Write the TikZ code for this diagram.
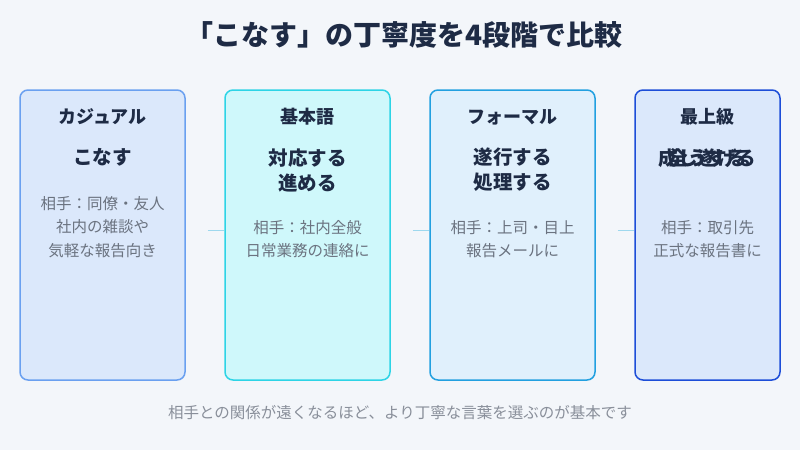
\documentclass[tikz,border=0pt]{standalone}
\usepackage{fontspec}
\setmainfont{Noto Sans CJK JP}
\definecolor{bgc}{HTML}{F3F6FA}
\definecolor{ink}{HTML}{1E2B45}
\definecolor{greyt}{HTML}{6B7380}
\definecolor{linkc}{HTML}{9ED8EE}
\definecolor{fillA}{HTML}{DBE8FB}
\definecolor{lineA}{HTML}{6AA0F0}
\definecolor{fillB}{HTML}{CFF8FB}
\definecolor{lineB}{HTML}{2DD4E6}
\definecolor{fillC}{HTML}{E0F0FC}
\definecolor{lineC}{HTML}{22A0E0}
\definecolor{lineD}{HTML}{1D4ED8}
\tikzset{
  card/.style={draw, line width=1.5pt, rounded corners=8pt, minimum width=165pt, minimum height=290pt, inner sep=0},
  level/.style={font=\fontsize{18}{20}\selectfont\bfseries, text=ink},
  word/.style={font=\fontsize{19.5}{25}\selectfont\bfseries, text=ink, align=center},
  usage/.style={font=\fontsize{15.5}{23.5}\selectfont, text=greyt, align=center},
  link/.style={draw=linkc, line width=1pt}
}
\begin{document}
\begin{tikzpicture}[x=1pt, y=-1pt]
  \fill[bgc] (0,0) rectangle (800,450);
  \useasboundingbox (0,0) rectangle (800,450);
  \node[font=\fontsize{28}{32}\selectfont\bfseries, text=ink] (title) at (404,35) {「こなす」の丁寧度を4段階で比較};
  % cards
  \node[card, fill=fillA, draw=lineA] (c1) at (102.5,235) {};
  \node[card, fill=fillB, draw=lineB] (c2) at (307.5,235) {};
  \node[card, fill=fillC, draw=lineC] (c3) at (512.5,235) {};
  \node[card, fill=fillA, draw=lineD, minimum width=145pt] (c4) at (707.5,235) {};
  % connectors
  \path (c1.east) ++(22,-5) coordinate (l1a) (c2.west) ++(-0.75,-5) coordinate (l1b);
  \draw[link] (l1a) -- (l1b);
  \path (c2.east) ++(22,-5) coordinate (l2a) (c3.west) ++(-0.75,-5) coordinate (l2b);
  \draw[link] (l2a) -- (l2b);
  \path (c3.east) ++(22,-5) coordinate (l3a) (c4.west) ++(-0.75,-5) coordinate (l3b);
  \draw[link] (l3a) -- (l3b);
  % levels
  \node[level] (h1) at (102.5,117) {カジュアル};
  \node[level] (h2) at (307.5,117) {基本語};
  \node[level] (h3) at (512.5,117) {フォーマル};
  \node[level] (h4) at (707.5,117) {最上級};
  % words
  \node[word] (w1) at (102.5,157) {こなす};
  \node[word] (w2) at (307.5,170) {対応する\\進める};
  \node[word] (w3) at (512.5,170) {遂行する\\処理する};
  \node[word] (w4a) at (707.5,158) {成し遂げる};
  \node[word] (w4b) at (707.5,158) {全うする};
  % usage
  \node[usage] (u1) at (102.5,227) {相手：同僚・友人\\社内の雑談や\\気軽な報告向き};
  \node[usage] (u2) at (307.5,239) {相手：社内全般\\日常業務の連絡に};
  \node[usage] (u3) at (512.5,239) {相手：上司・目上\\報告メールに};
  \node[usage] (u4) at (707.5,239) {相手：取引先\\正式な報告書に};
  \node[font=\fontsize{15.5}{18}\selectfont, text=greyt!80] (foot) at (400,413) {相手との関係が遠くなるほど、より丁寧な言葉を選ぶのが基本です};
\end{tikzpicture}
\end{document}
